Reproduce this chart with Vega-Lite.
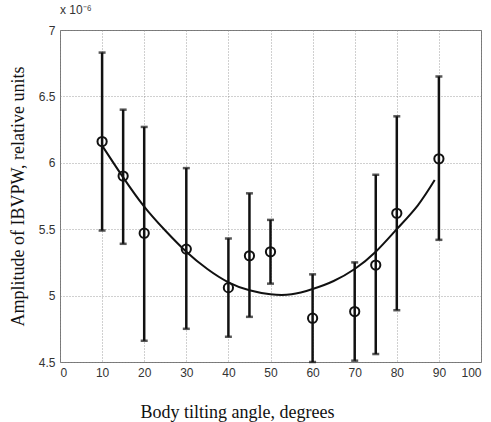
{
  "$schema": "https://vega.github.io/schema/vega-lite/v6.json",
  "width": 421,
  "height": 332,
  "autosize": {"type": "none"},
  "padding": {"left": 60, "top": 30, "right": 10, "bottom": 60},
  "background": "white",
  "config": {
    "view": {"stroke": "#777777", "strokeWidth": 1},
    "axis": {
      "grid": true,
      "gridColor": "#888888",
      "gridDash": [1, 2],
      "gridWidth": 0.8,
      "domain": false,
      "ticks": false,
      "labelFont": "Liberation Sans",
      "labelFontSize": 12,
      "labelColor": "#333333",
      "titleFont": "Liberation Serif",
      "titleFontSize": 18,
      "titleFontWeight": "normal",
      "titleColor": "#111111"
    }
  },
  "title": {
    "text": "x 10⁻⁶",
    "anchor": "start",
    "frame": "group",
    "font": "Liberation Sans",
    "fontSize": 12,
    "fontWeight": "normal",
    "color": "#333333",
    "offset": 7
  },
  "datasets": {
    "obs": [
      {"angle": 10, "mean": 6.16, "lo": 5.49, "hi": 6.83},
      {"angle": 15, "mean": 5.90, "lo": 5.39, "hi": 6.40},
      {"angle": 20, "mean": 5.47, "lo": 4.66, "hi": 6.27},
      {"angle": 30, "mean": 5.35, "lo": 4.75, "hi": 5.96},
      {"angle": 40, "mean": 5.06, "lo": 4.69, "hi": 5.43},
      {"angle": 45, "mean": 5.30, "lo": 4.84, "hi": 5.77},
      {"angle": 50, "mean": 5.33, "lo": 5.09, "hi": 5.57},
      {"angle": 60, "mean": 4.83, "lo": 4.50, "hi": 5.16},
      {"angle": 70, "mean": 4.88, "lo": 4.51, "hi": 5.25},
      {"angle": 75, "mean": 5.23, "lo": 4.56, "hi": 5.91},
      {"angle": 80, "mean": 5.62, "lo": 4.89, "hi": 6.35},
      {"angle": 90, "mean": 6.03, "lo": 5.42, "hi": 6.65}
    ],
    "fit": [
      {"angle": 10, "amp": 6.13},
      {"angle": 15, "amp": 5.89},
      {"angle": 20, "amp": 5.67},
      {"angle": 25, "amp": 5.49},
      {"angle": 30, "amp": 5.33},
      {"angle": 35, "amp": 5.20},
      {"angle": 40, "amp": 5.10},
      {"angle": 45, "amp": 5.04},
      {"angle": 50, "amp": 5.01},
      {"angle": 55, "amp": 5.01},
      {"angle": 60, "amp": 5.05},
      {"angle": 65, "amp": 5.11},
      {"angle": 70, "amp": 5.20},
      {"angle": 75, "amp": 5.33},
      {"angle": 80, "amp": 5.50},
      {"angle": 85, "amp": 5.68},
      {"angle": 89, "amp": 5.87}
    ]
  },
  "layer": [
    {
      "data": {"name": "fit"},
      "mark": {"type": "line", "color": "#111111", "strokeWidth": 2, "interpolate": "natural"},
      "encoding": {
        "x": {
          "field": "angle", "type": "quantitative",
          "scale": {"domain": [0, 100], "nice": false},
          "axis": {"values": [0,10,20,30,40,50,60,70,80,90,100], "title": "Body tilting angle, degrees", "labelPadding": 5, "titleX": 177, "titleY": 50, "titleBaseline": "middle"}
        },
        "y": {
          "field": "amp", "type": "quantitative",
          "scale": {"domain": [4.5, 7], "nice": false, "zero": false},
          "axis": {"values": [4.5,5,5.5,6,6.5,7], "format": "~g", "title": "Amplitude of IBVPW, relative units", "labelPadding": 5, "titleX": -42, "titleY": 166, "titleBaseline": "middle", "titleAngle": -90}
        }
      }
    },
    {
      "data": {"name": "obs"},
      "mark": {"type": "rule", "color": "#111111", "strokeWidth": 2.5},
      "encoding": {
        "x": {"field": "angle", "type": "quantitative"},
        "y": {"field": "lo", "type": "quantitative"},
        "y2": {"field": "hi"}
      }
    },
    {
      "data": {"name": "obs"},
      "mark": {"type": "tick", "orient": "horizontal", "color": "#111111", "size": 7, "thickness": 2.5},
      "encoding": {
        "x": {"field": "angle", "type": "quantitative"},
        "y": {"field": "lo", "type": "quantitative"}
      }
    },
    {
      "data": {"name": "obs"},
      "mark": {"type": "tick", "orient": "horizontal", "color": "#111111", "size": 7, "thickness": 2.5},
      "encoding": {
        "x": {"field": "angle", "type": "quantitative"},
        "y": {"field": "hi", "type": "quantitative"}
      }
    },
    {
      "data": {"name": "obs"},
      "mark": {"type": "point", "shape": "circle", "filled": false, "color": "#111111", "strokeWidth": 2, "size": 85, "opacity": 1},
      "encoding": {
        "x": {"field": "angle", "type": "quantitative"},
        "y": {"field": "mean", "type": "quantitative"}
      }
    }
  ]
}
